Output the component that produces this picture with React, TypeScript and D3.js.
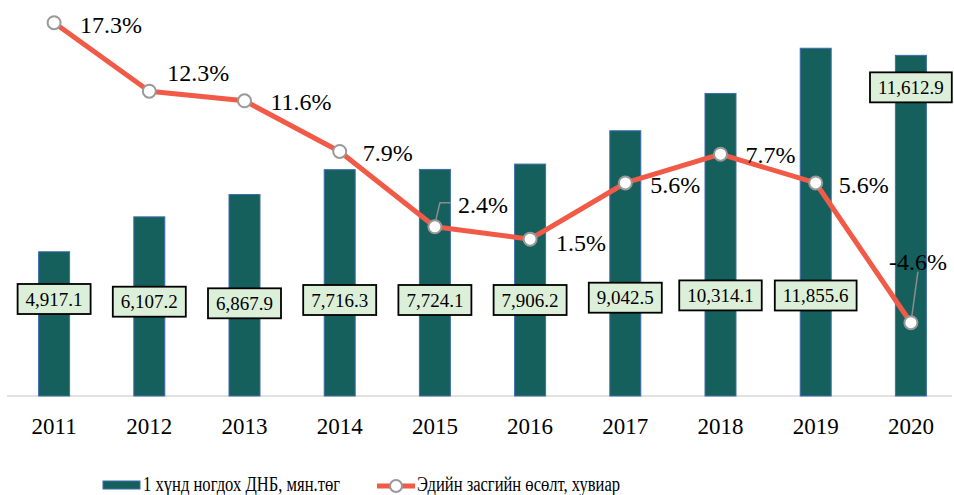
import React, { useEffect, useRef } from 'react';
import * as d3 from 'd3';

const years = ['2011', '2012', '2013', '2014', '2015', '2016', '2017', '2018', '2019', '2020'];
const gdpPerCapita = [4917.1, 6107.2, 6867.9, 7716.3, 7724.1, 7906.2, 9042.5, 10314.1, 11855.6, 11612.9];
const growth = [17.3, 12.3, 11.6, 7.9, 2.4, 1.5, 5.6, 7.7, 5.6, -4.6];
const barLabels = ['4,917.1', '6,107.2', '6,867.9', '7,716.3', '7,724.1', '7,906.2', '9,042.5', '10,314.1', '11,855.6', '11,612.9'];
const growthLabels = ['17.3%', '12.3%', '11.6%', '7.9%', '2.4%', '1.5%', '5.6%', '7.7%', '5.6%', '-4.6%'];
const seriesNames = ['1 хүнд ногдох ДНБ, мян.төг', 'Эдийн засгийн өсөлт, хувиар'];

// label placement (offsets, styling)
const barLabelDy = [299, 301.7, 303.3, 300, 300, 300, 297.7, 295.4, 295.5, null];
const pctDx = [26, 18, 26, 23, 23, 26, 25, 25, 23, -22];
const pctDy = [1.5, -19, 0.5, 1.5, -22, 3, 2, 0, 2, -61];
const leader = [false, false, false, false, true, false, false, false, false, true];

const W = 954;
const H = 495;
const FONT = 'Liberation Serif, Times New Roman, serif';

export default function App() {
  const ref = useRef<SVGSVGElement | null>(null);

  useEffect(() => {
    const svg = d3.select(ref.current);
    svg.selectAll('*').remove();

    const x = d3.scalePoint<string>().domain(years).range([6.5, 958.5]).padding(0.5);
    const yBar = d3.scaleLinear().domain([0, 13500]).range([396, 0]);
    const yLine = d3.scaleLinear().domain([-5, 20]).range([328.2, -14.3]);
    const barW = 31;

    // baseline
    svg.append('line')
      .attr('x1', 7).attr('x2', 952)
      .attr('y1', yBar(0)).attr('y2', yBar(0))
      .attr('stroke', '#d9d9d9').attr('stroke-width', 1.5);

    // bars
    svg.append('g').selectAll('rect')
      .data(gdpPerCapita)
      .join('rect')
      .attr('x', (_, i) => (x(years[i]) as number) - barW / 2)
      .attr('y', d => yBar(d))
      .attr('width', barW)
      .attr('height', d => yBar(0) - yBar(d))
      .attr('fill', '#15605D')
      .attr('stroke', '#3F6DB0')
      .attr('stroke-width', 1);

    // line
    const line = d3.line<number>()
      .x((_, i) => x(years[i]) as number)
      .y(d => yLine(d));
    svg.append('path')
      .datum(growth)
      .attr('d', line)
      .attr('fill', 'none')
      .attr('stroke', '#F05A47')
      .attr('stroke-width', 5)
      .attr('stroke-linejoin', 'round');

    // leader lines
    growth.forEach((g, i) => {
      if (!leader[i]) return;
      const px = x(years[i]) as number;
      const py = yLine(g);
      if (i === 4) {
        svg.append('polyline')
          .attr('points', `${px + 1},${py - 7} ${px + 5},${py - 24} ${px + 16},${py - 24}`)
          .attr('fill', 'none').attr('stroke', '#8c8c8c').attr('stroke-width', 1.5);
      } else {
        svg.append('line')
          .attr('x1', px + 1).attr('y1', py - 7)
          .attr('x2', px + 7).attr('y2', py - 51)
          .attr('stroke', '#8c8c8c').attr('stroke-width', 1.5);
      }
    });

    // markers
    svg.append('g').selectAll('circle')
      .data(growth)
      .join('circle')
      .attr('cx', (_, i) => x(years[i]) as number)
      .attr('cy', d => yLine(d))
      .attr('r', 6.5)
      .attr('fill', '#ffffff')
      .attr('stroke', '#999999')
      .attr('stroke-width', 2);

    // percentage labels
    svg.append('g').selectAll('text')
      .data(growth)
      .join('text')
      .attr('x', (_, i) => (x(years[i]) as number) + pctDx[i])
      .attr('y', (d, i) => yLine(d) + pctDy[i])
      .attr('dy', '0.35em')
      .style('font-family', FONT)
      .attr('font-size', 24)
      .attr('fill', '#000')
      .text((_, i) => growthLabels[i]);

    // bar value labels
    const lg = svg.append('g');
    gdpPerCapita.forEach((v, i) => {
      const cx = x(years[i]) as number;
      const cy = barLabelDy[i] === null ? yBar(v) + 32 : (barLabelDy[i] as number);
      const g = lg.append('g');
      const rect = g.append('rect');
      const t = g.append('text')
        .attr('x', cx).attr('y', cy)
        .attr('dy', '0.35em')
        .attr('text-anchor', 'middle')
        .style('font-family', FONT)
        .attr('font-size', 19)
        .attr('fill', '#000')
        .text(barLabels[i]);
      const tw = (t.node() as SVGTextElement).getComputedTextLength();
      const bw = tw + 16;
      rect.attr('x', cx - bw / 2).attr('y', cy - 15)
        .attr('width', bw).attr('height', 30)
        .attr('fill', '#DCEFD8')
        .attr('stroke', '#000').attr('stroke-width', 1.8);
    });

    // x axis labels
    svg.append('g').selectAll('text')
      .data(years)
      .join('text')
      .attr('x', d => x(d) as number)
      .attr('y', 426)
      .attr('dy', '0.35em')
      .attr('text-anchor', 'middle')
      .style('font-family', FONT)
      .attr('font-size', 23)
      .attr('fill', '#000')
      .text(d => d);

    // legend
    const leg = svg.append('g');
    leg.append('rect')
      .attr('x', 103).attr('y', 481).attr('width', 37).attr('height', 8)
      .attr('fill', '#15605D').attr('stroke', '#3F6DB0').attr('stroke-width', 1);
    leg.append('text')
      .attr('x', 143).attr('y', 484)
      .attr('dy', '0.35em')
      .style('font-family', FONT).attr('font-size', 20).attr('fill', '#000')
      .attr('textLength', 197).attr('lengthAdjust', 'spacingAndGlyphs')
      .text(seriesNames[0]);
    leg.append('line')
      .attr('x1', 377).attr('x2', 415).attr('y1', 486).attr('y2', 486)
      .attr('stroke', '#F05A47').attr('stroke-width', 5);
    leg.append('circle')
      .attr('cx', 396).attr('cy', 486).attr('r', 6)
      .attr('fill', '#fff').attr('stroke', '#999').attr('stroke-width', 2);
    leg.append('text')
      .attr('x', 417).attr('y', 484)
      .attr('dy', '0.35em')
      .style('font-family', FONT).attr('font-size', 20).attr('fill', '#000')
      .attr('textLength', 203).attr('lengthAdjust', 'spacingAndGlyphs')
      .text(seriesNames[1]);
  }, []);

  return (
    <svg
      ref={ref}
      width={W}
      height={H}
      style={{ position: 'absolute', left: 0, top: 0, background: '#fff' }}
    />
  );
}
